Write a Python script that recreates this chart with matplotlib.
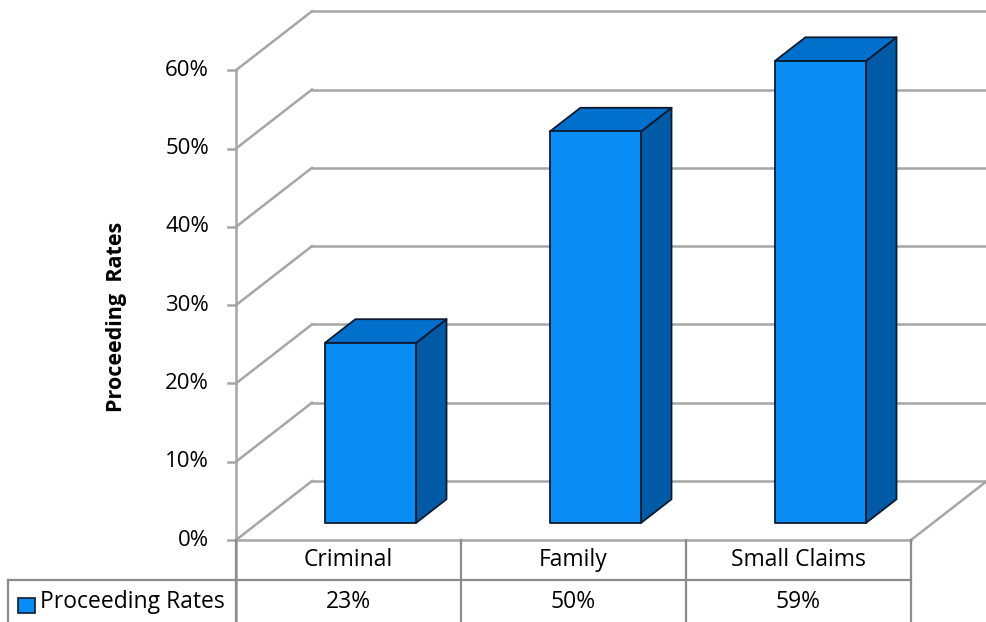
import matplotlib.pyplot as plt
from matplotlib.patches import Polygon

categories = ['Criminal', 'Family', 'Small Claims']
rates = [23, 50, 59]
series_name = 'Proceeding Rates'
yticks = [0, 10, 20, 30, 40, 50, 60]

plt.rcParams['font.family'] = ['Open Sans', 'DejaVu Sans']

# one axes over the whole figure; x in category units, y in percent
W, H = 987, 622
x0px, y0px = 236, 540
upx = 225.0      # px per category
vpx = 7.83       # px per percent
fig = plt.figure(figsize=(W / 100, H / 100), dpi=100)
ax = fig.add_axes([0, 0, 1, 1])
ax.set_xlim(-x0px / upx, (W - x0px) / upx)
ax.set_ylim(-(H - y0px) / vpx, y0px / vpx)
ax.axis('off')

DX = 76 / upx    # depth offset
DY = 59 / vpx
n = len(categories)
grid = '#a6a6a6'

# walls and floor gridlines
for t in yticks:
    ax.plot([0, DX], [t, t + DY], color=grid, lw=1.8, zorder=1)
    ax.plot([DX, 4], [t + DY, t + DY], color=grid, lw=1.8, zorder=1)
ax.plot([n, n + DX], [0, DY], color=grid, lw=1.8, zorder=1)
ax.plot([0, n], [0, 0], color=grid, lw=1.8, zorder=1)
ax.plot([0, 0], [-20, 60], color=grid, lw=1.8, zorder=1)
for t in yticks:
    ax.plot([-8 / upx, 0], [t, t], color=grid, lw=1.8, zorder=1)
    ax.text(-27 / upx, t, '%d%%' % t, ha='right', va='center', fontsize=16)

ax.text(-120 / upx, 28.5, 'Proceeding  Rates', rotation=90, ha='center', va='center',
        fontsize=15.5, fontweight='bold')

# bars
bw = 0.405
f0, f1 = 0.29, 0.69
front_c, top_c, side_c, edge_c = '#0a8cf5', '#0070cc', '#005aa5', '#0d1a30'
for i, v in enumerate(rates):
    xl = i + 0.5 - bw / 2 + f0 * DX
    xr = xl + bw
    yb = f0 * DY
    yt = v + f0 * DY
    ddx, ddy = (f1 - f0) * DX, (f1 - f0) * DY
    side = [(xr, yb), (xr + ddx, yb + ddy), (xr + ddx, yt + ddy), (xr, yt)]
    top = [(xl, yt), (xr, yt), (xr + ddx, yt + ddy), (xl + ddx, yt + ddy)]
    front = [(xl, yb), (xr, yb), (xr, yt), (xl, yt)]
    for poly, c in [(side, side_c), (top, top_c), (front, front_c)]:
        ax.add_patch(Polygon(poly, closed=True, facecolor=c, edgecolor=edge_c,
                             lw=1.3, joinstyle='round', zorder=3))

# data table
r1 = -(580 - y0px) / vpx
r2 = -(H - y0px) / vpx
hdr_y = -(560 - y0px) / vpx
row_y = -(602 - y0px) / vpx
tl = '#8c8c8c'
for i in range(n + 1):
    ax.plot([i, i], [0, r2], color=tl, lw=1.6, zorder=2)
ax.plot([-228 / upx, n], [r1, r1], color=tl, lw=1.6, zorder=2)
ax.plot([-228 / upx, -228 / upx], [r1, r2], color=tl, lw=1.6, zorder=2)
for i, c in enumerate(categories):
    ax.text(i + 0.5, hdr_y, c, ha='center', va='center', fontsize=16.5)
    ax.text(i + 0.5, row_y, '%d%%' % rates[i], ha='center', va='center', fontsize=16.5)
ax.add_patch(Polygon([(-218 / upx, -58 / vpx), (-201 / upx, -58 / vpx),
                      (-201 / upx, -73 / vpx), (-218 / upx, -73 / vpx)],
                     closed=True, facecolor=front_c, edgecolor='#0d1a30', lw=1.2, zorder=3))
ax.text(-196 / upx, row_y, series_name, ha='left', va='center', fontsize=16.5)

fig.savefig('out.png', dpi=100)
